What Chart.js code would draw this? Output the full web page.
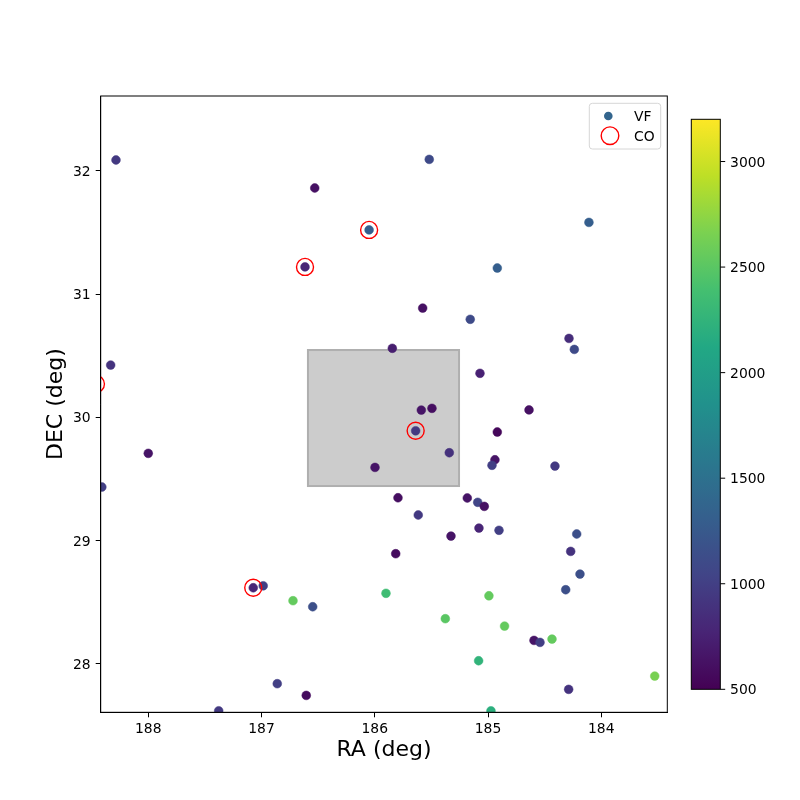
<!DOCTYPE html>
<html><head><meta charset="utf-8">
<script src="https://cdn.jsdelivr.net/npm/chart.js@4.4.1/dist/chart.umd.min.js"></script>
<style>html,body{margin:0;padding:0;background:#fff}canvas{display:block}</style>
</head><body>
<canvas id="c" width="800" height="800"></canvas>
<script>
// ---- data ----
const vfRA  = [188.285,186.53,186.05,186.616,188.332,185.519,184.109,184.918,185.577,185.157,
               184.285,184.238,185.845,185.071,184.638,185.589,185.495,185.639,185.342,184.918,
               184.939,184.965,184.409,185.795,185.183,185.091,185.033,185.616,185.08,184.903,
               184.217,185.327,184.27,185.815,184.188,184.314,185.901,184.992,185.377,184.854,
               184.594,184.541,184.435,185.083,183.528,184.288,184.974,188.0,188.41,185.998,
               187.073,186.985,186.722,186.548,186.861,186.605,187.378];
const vfDEC = [32.087,31.86,31.52,31.22,30.424,32.092,31.581,31.211,30.886,30.795,
               30.64,30.551,30.56,30.357,30.06,30.059,30.073,29.891,29.713,29.881,
               29.656,29.611,29.605,29.348,29.346,29.311,29.278,29.208,29.102,29.084,
               29.054,29.037,28.913,28.894,28.729,28.602,28.573,28.553,28.367,28.307,
               28.191,28.175,28.202,28.026,27.902,27.794,27.62,29.708,29.435,29.594,
               28.618,28.634,28.513,28.464,27.84,27.745,27.62];
const vfVel = [950,620,1300,780,900,1100,1300,1300,620,1100,
               850,1100,720,750,620,650,600,950,880,550,
               650,1000,950,600,650,1050,620,950,780,1000,
               1150,650,900,580,1150,1150,2350,2550,2500,2550,
               650,1000,2550,2250,2650,900,2200,650,1000,650,
               780,1000,2550,1150,1000,580,950];
const coRA  = [186.05,186.616,185.639,187.073,188.462];
const coDEC = [31.52,31.22,29.891,28.618,30.27];
const xTicks  = [188,187,186,185,184];
const yTicks  = [28,29,30,31,32];
const cbTicks = [500,1000,1500,2000,2500,3000];
const velMin = 500, velMax = 3200;
const raLim  = [183.417, 188.42];
const decLim = [27.608, 32.606];
const boxRA  = [186.59, 185.256];
const boxDEC = [29.443, 30.546];
const legendLabels = ['VF','CO'];
const xLabel = 'RA (deg)', yLabel = 'DEC (deg)';

// ---- style ----
const FONT = 'DejaVu Sans';
const VIRIDIS = ['#440154','#482475','#414487','#355f8d','#2a788e','#21918c','#22a884','#44bf70','#7ad151','#bddf26','#fde725'];
function hex2rgb(h){return [parseInt(h.slice(1,3),16),parseInt(h.slice(3,5),16),parseInt(h.slice(5,7),16)];}
function viridis(t){
  t=Math.max(0,Math.min(1,t));
  const p=t*(VIRIDIS.length-1), i=Math.min(Math.floor(p),VIRIDIS.length-2), f=p-i;
  const a=hex2rgb(VIRIDIS[i]), b=hex2rgb(VIRIDIS[i+1]);
  return 'rgb('+a.map((v,k)=>Math.round(v+(b[k]-v)*f)).join(',')+')';
}
const vfColors = vfVel.map(v=>viridis((v-velMin)/(velMax-velMin)));

const CB = {left:691.3, right:720.3, top:119.3, bottom:689.3};

const decorPlugin = {
  id:'decor',
  beforeDatasetsDraw(chart){
    const {ctx, chartArea:a, scales:{x,y}} = chart;
    ctx.save();
    ctx.beginPath(); ctx.rect(a.left,a.top,a.right-a.left,a.bottom-a.top); ctx.clip();
    const x0=x.getPixelForValue(boxRA[0]), x1=x.getPixelForValue(boxRA[1]);
    const y0=y.getPixelForValue(boxDEC[1]), y1=y.getPixelForValue(boxDEC[0]);
    ctx.fillStyle='#cccccc'; ctx.fillRect(x0,y0,x1-x0,y1-y0);
    ctx.strokeStyle='#afafaf'; ctx.lineWidth=2; ctx.strokeRect(x0,y0,x1-x0,y1-y0);
    ctx.restore();
  },
  afterDraw(chart){
    const {ctx, chartArea:a} = chart;
    ctx.save();
    // frame
    ctx.strokeStyle='#000'; ctx.lineWidth=1;
    ctx.strokeRect(a.left,a.top,a.right-a.left,a.bottom-a.top);
    // legend
    const L={l:589.3,t:103.3,r:660.7,b:149};
    ctx.beginPath();
    ctx.roundRect(L.l,L.t,L.r-L.l,L.b-L.t,3);
    ctx.fillStyle='rgba(255,255,255,0.8)'; ctx.fill();
    ctx.strokeStyle='#d6d6d6'; ctx.lineWidth=1; ctx.stroke();
    ctx.beginPath(); ctx.arc(608.3,116,4.3,0,Math.PI*2); ctx.fillStyle='#33658d'; ctx.fill();
    ctx.beginPath(); ctx.arc(610,135.7,8.8,0,Math.PI*2); ctx.strokeStyle='red'; ctx.lineWidth=1.4; ctx.stroke();
    ctx.fillStyle='#000'; ctx.font='13.9px "'+FONT+'"'; ctx.textBaseline='middle'; ctx.textAlign='left';
    ctx.fillText(legendLabels[0],634,117);
    ctx.fillText(legendLabels[1],634,137);
    // colorbar
    const g=ctx.createLinearGradient(0,CB.bottom,0,CB.top);
    VIRIDIS.forEach((c,i)=>g.addColorStop(i/(VIRIDIS.length-1),c));
    ctx.fillStyle=g; ctx.fillRect(CB.left,CB.top,CB.right-CB.left,CB.bottom-CB.top);
    ctx.strokeStyle='#000'; ctx.lineWidth=1;
    ctx.strokeRect(CB.left,CB.top,CB.right-CB.left,CB.bottom-CB.top);
    ctx.fillStyle='#000';
    cbTicks.forEach(v=>{
      const py=CB.bottom-(v-velMin)/(velMax-velMin)*(CB.bottom-CB.top);
      ctx.beginPath(); ctx.moveTo(CB.right,py); ctx.lineTo(CB.right+4.9,py); ctx.stroke();
      ctx.fillText(String(v),CB.right+9.8,py+1.5);
    });
    ctx.restore();
  }
};

const tickFont = {family:FONT, size:13.9};
const titleFont = {family:FONT, size:22};

new Chart(document.getElementById('c'), {
  type:'scatter',
  data:{datasets:[
    {label:legendLabels[0], data:vfRA.map((r,i)=>({x:r,y:vfDEC[i]})),
     pointRadius:4.4, pointBackgroundColor:vfColors, pointBorderColor:vfColors, pointBorderWidth:0.5, order:2},
    {label:legendLabels[1], data:coRA.map((r,i)=>({x:r,y:coDEC[i]})),
     pointRadius:8.5, pointBackgroundColor:'rgba(0,0,0,0)', pointBorderColor:'red', pointBorderWidth:1.4, order:1}
  ]},
  options:{
    responsive:false, animation:false, devicePixelRatio:1,
    layout:{padding:{left:0,top:96,right:132.7,bottom:0}},
    plugins:{legend:{display:false}, tooltip:{enabled:false}},
    scales:{
      x:{type:'linear', reverse:true, min:raLim[0], max:raLim[1],
         afterBuildTicks:s=>{s.ticks=xTicks.map(v=>({value:v}));},
         afterFit:s=>{s.height=800-712.3;},
         ticks:{font:tickFont, color:'#000', padding:4, maxRotation:0, callback:v=>String(v)},
         grid:{drawOnChartArea:false, tickLength:5, color:'#000', tickWidth:1},
         border:{display:true, color:'#000', width:1},
         title:{display:true, text:xLabel, font:titleFont, color:'#000', padding:{top:0,bottom:36.8}}},
      y:{type:'linear', min:decLim[0], max:decLim[1],
         afterBuildTicks:s=>{s.ticks=yTicks.map(v=>({value:v}));},
         afterFit:s=>{s.width=100.7;},
         ticks:{font:tickFont, color:'#000', padding:5, labelOffset:1.5, callback:v=>String(v)},
         grid:{drawOnChartArea:false, tickLength:5, color:'#000', tickWidth:1},
         border:{display:true, color:'#000', width:1},
         title:{display:true, text:yLabel, font:titleFont, color:'#000', padding:{top:42.8,bottom:0}}}
    }
  },
  plugins:[decorPlugin]
});
</script>
</body></html>
